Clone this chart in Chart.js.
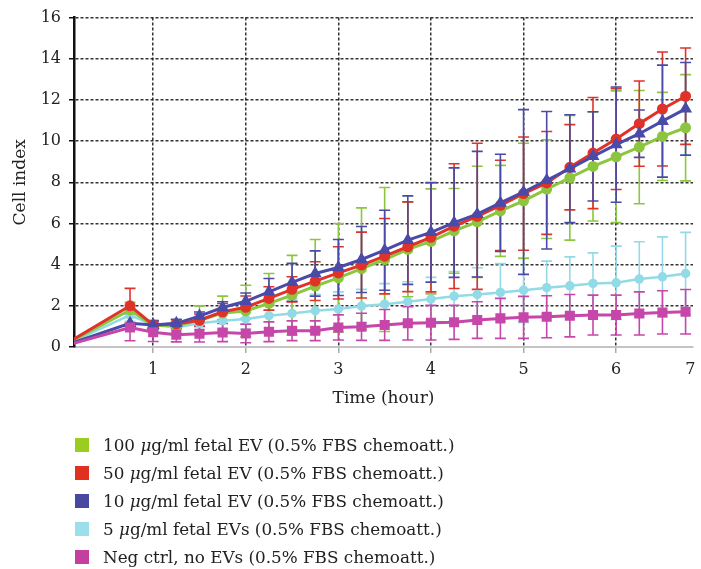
<!DOCTYPE html>
<html>
<head>
<meta charset="utf-8">
<script src="https://cdn.jsdelivr.net/npm/chart.js@4/dist/chart.umd.min.js"></script>
<style>
  html, body { margin: 0; padding: 0; background: #fff; }
  #wrap { position: relative; width: 701px; height: 569px; }
  #legend { position: absolute; left: 75px; top: 431px; font-family: "DejaVu Serif", "Liberation Serif", serif; font-size: 16.8px; color: #222; }
  .row { height: 28px; display: flex; align-items: center; white-space: nowrap; }
  .sw { width: 14px; height: 14px; margin-right: 14px; flex: none; }
</style>
</head>
<body>
<div id="wrap">
  <canvas id="c" width="701" height="569"></canvas>
  <div id="legend"></div>
</div>
<script>
// Time points (hours)
const times = [0, 0.75, 1.0, 1.25, 1.5, 1.75, 2.0, 2.25, 2.5, 2.75, 3.0, 3.25, 3.5, 3.75, 4.0, 4.25, 4.5, 4.75, 5.0, 5.25, 5.5, 5.75, 6.0, 6.25, 6.5, 6.75];

const seriesLabels = [
  "100 μg/ml fetal EV (0.5% FBS chemoatt.)",
  "50 μg/ml fetal EV (0.5% FBS chemoatt.)",
  "10 μg/ml fetal EV (0.5% FBS chemoatt.)",
  "5 μg/ml fetal EVs (0.5% FBS chemoatt.)",
  "Neg ctrl, no EVs (0.5% FBS chemoatt.)"
];

const ev100 = [0, 1.8, 1.05, 1.05, 1.3, 1.65, 1.75, 2.12, 2.52, 2.96, 3.36, 3.81, 4.25, 4.74, 5.13, 5.64, 6.08, 6.61, 7.1, 7.67, 8.22, 8.77, 9.24, 9.71, 10.23, 10.65];
const ev100Err = [0, 0.37, 0.2, 0.2, 0.7, 0.82, 1.25, 1.45, 1.93, 2.26, 2.64, 2.95, 3.5, 2.3, 2.55, 2.06, 2.7, 2.21, 2.8, 2.4, 3.03, 2.65, 3.2, 2.75, 2.14, 2.58];

const ev50 = [0, 2.0, 1.07, 1.12, 1.3, 1.71, 1.93, 2.36, 2.8, 3.2, 3.6, 3.98, 4.41, 4.87, 5.33, 5.87, 6.35, 6.88, 7.45, 7.97, 8.73, 9.42, 10.1, 10.85, 11.56, 12.18];
const ev50Err = [0, 0.85, 0.2, 0.2, 0.3, 0.4, 0.55, 0.57, 0.61, 0.94, 1.27, 1.6, 1.83, 2.18, 2.65, 3.03, 3.55, 2.19, 2.75, 2.5, 2.07, 2.7, 2.45, 2.07, 2.77, 2.34];

const ev10 = [0, 1.15, 1.07, 1.15, 1.5, 1.92, 2.22, 2.68, 3.14, 3.57, 3.86, 4.25, 4.7, 5.19, 5.57, 6.04, 6.45, 7.0, 7.53, 8.1, 8.66, 9.26, 9.83, 10.36, 10.97, 11.57];
const ev10Err = [0, 0.3, 0.2, 0.2, 0.2, 0.28, 0.4, 0.65, 0.92, 1.1, 1.36, 1.6, 1.94, 2.15, 2.42, 2.66, 3.05, 2.36, 4.0, 3.34, 2.62, 2.17, 2.8, 1.15, 2.72, 2.25];

const ev5 = [0, 1.55, 1.07, 0.95, 1.15, 1.28, 1.36, 1.52, 1.63, 1.76, 1.84, 1.99, 2.08, 2.2, 2.33, 2.47, 2.55, 2.65, 2.76, 2.88, 2.97, 3.09, 3.12, 3.3, 3.41, 3.57];
const ev5Err = [0, 0.3, 0.25, 0.25, 0.3, 0.4, 0.5, 0.6, 0.7, 0.8, 0.84, 0.81, 1.0, 0.97, 1.05, 1.2, 1.3, 1.4, 1.57, 1.29, 1.41, 1.48, 1.78, 1.81, 1.94, 2.0];

const negCtrl = [0, 0.95, 0.72, 0.6, 0.64, 0.7, 0.66, 0.74, 0.79, 0.79, 0.95, 0.98, 1.07, 1.15, 1.18, 1.2, 1.31, 1.39, 1.44, 1.47, 1.52, 1.55, 1.55, 1.63, 1.68, 1.71];
const negCtrlErr = [0, 0.65, 0.45, 0.35, 0.4, 0.44, 0.45, 0.48, 0.48, 0.48, 0.61, 0.66, 0.75, 0.81, 0.84, 0.83, 0.89, 0.97, 1.02, 1.02, 1.03, 0.97, 0.97, 1.05, 1.05, 1.08];

// Axis ticks: the "7" label sits at the right edge of the plot in the reference
const xTickValues = [1, 2, 3, 4, 5, 6, 6.8];
const xTickLabels = ["1", "2", "3", "4", "5", "6", "7"];
const yTickValues = [0, 2, 4, 6, 8, 10, 12, 14, 16];

const colors = ["#8cc63e", "#e0322a", "#4a4aa8", "#92dbe6", "#c646a9"];
const legendColors = ["#9acd1f", "#e0301e", "#4848a0", "#9adfe9", "#c4409f"];
const values = [ev100, ev50, ev10, ev5, negCtrl];
const errors = [ev100Err, ev50Err, ev10Err, ev5Err, negCtrlErr];
const shapes = ["circle", "circle", "triangle", "circle", "rect"];
const radii = [4, 4, 4.5, 3.5, 5];
const widths = [3, 3, 3, 2.5, 3];
const orders = [3, 2, 1, 4, 0];

const datasets = values.map((vals, i) => ({
  label: seriesLabels[i],
  data: vals.map((v, j) => ({ x: times[j], y: v })),
  errors: errors[i],
  borderColor: colors[i],
  backgroundColor: colors[i],
  pointBackgroundColor: colors[i],
  pointBorderColor: colors[i],
  pointStyle: shapes[i],
  pointRadius: radii[i],
  borderWidth: widths[i],
  tension: 0,
  clip: 0,
  order: orders[i]
}));

const errorBars = {
  id: "errorBars",
  beforeDatasetsDraw(chart) {
    const { ctx, chartArea: a, scales: { x, y } } = chart;
    ctx.save();
    ctx.beginPath();
    ctx.rect(a.left, a.top, a.right - a.left, a.bottom - a.top);
    ctx.clip();
    ctx.setLineDash([]);
    const idx = chart.data.datasets.map((d, i) => i).sort((p, q) => chart.data.datasets[q].order - chart.data.datasets[p].order);
    idx.forEach(i => {
      const ds = chart.data.datasets[i];
      ctx.strokeStyle = ds.borderColor;
      ctx.lineWidth = 1.6;
      ds.data.forEach((p, j) => {
        const e = ds.errors[j];
        if (!e) return;
        const px = x.getPixelForValue(p.x);
        const yt = y.getPixelForValue(p.y + e);
        const yb = y.getPixelForValue(p.y - e);
        const w = 5.5;
        ctx.beginPath();
        ctx.moveTo(px, yt); ctx.lineTo(px, yb);
        ctx.moveTo(px - w, yt); ctx.lineTo(px + w, yt);
        ctx.moveTo(px - w, yb); ctx.lineTo(px + w, yb);
        ctx.stroke();
      });
    });
    ctx.restore();
  }
};

const serif = "'DejaVu Serif', 'Liberation Serif', serif";
// dashed grid lines, solid axis lines
const gridDash = c => (c && c.type === "tick" ? [3, 2] : []);

const chart = new Chart(document.getElementById("c"), {
  type: "line",
  data: { datasets },
  plugins: [errorBars],
  options: {
    responsive: false,
    animation: false,
    layout: { padding: { top: 17, right: 1, left: 0, bottom: 160 } },
    plugins: { legend: { display: false }, tooltip: { enabled: false } },
    scales: {
      x: {
        type: "linear",
        min: 0.145,
        max: 6.83,
        afterBuildTicks: s => { s.ticks = xTickValues.map(v => ({ value: v })); },
        afterFit: s => { s.height = 62; s.paddingRight = 0; s.paddingLeft = 0; },
        ticks: {
          autoSkip: false, maxRotation: 0, padding: 7,
          color: "#222",
          font: { family: serif, size: 16 },
          callback: (v, i) => xTickLabels[i]
        },
        grid: {
          color: c => (c.index === xTickValues.length - 1 ? "rgba(0,0,0,0)" : "rgba(30,30,30,0.9)"),
          lineWidth: 1.5,
          tickColor: c => (c.index === xTickValues.length - 1 ? "rgba(0,0,0,0)" : "#aaa"),
          tickLength: 6
        },
        border: { color: "#c4c4c4", width: 2, dash: gridDash },
        title: {
          display: true, text: "Time (hour)", color: "#222",
          font: { family: serif, size: 17 }, padding: { top: 3, bottom: 0 }
        }
      },
      y: {
        min: 0,
        max: 16,
        afterBuildTicks: s => { s.ticks = yTickValues.map(v => ({ value: v })); },
        afterFit: s => { s.width = 74; },
        ticks: {
          color: "#222", padding: 8,
          font: { family: serif, size: 16 }
        },
        grid: {
          color: c => (c.tick && c.tick.value === 0 ? "rgba(0,0,0,0)" : "rgba(30,30,30,0.9)"),
          lineWidth: 1.5,
          tickColor: "#111",
          tickLength: 5,
          tickBorderDash: []
        },
        border: { color: "#111", width: 2.5, dash: gridDash },
        title: {
          display: true, text: "Cell index", color: "#222",
          font: { family: serif, size: 17 }, padding: { top: 10, bottom: 4 }
        }
      }
    }
  }
});

// HTML legend built from the chart's datasets (keeps italic μ as real text)
const leg = document.getElementById("legend");
chart.data.datasets.forEach((ds, i) => {
  const row = document.createElement("div");
  row.className = "row";
  const sw = document.createElement("div");
  sw.className = "sw";
  sw.style.background = legendColors[i];
  row.appendChild(sw);
  const span = document.createElement("span");
  ds.label.split("μ").forEach((part, k) => {
    if (k > 0) { const it = document.createElement("i"); it.textContent = "μ"; span.appendChild(it); }
    span.appendChild(document.createTextNode(part));
  });
  row.appendChild(span);
  leg.appendChild(row);
});
</script>
</body>
</html>
